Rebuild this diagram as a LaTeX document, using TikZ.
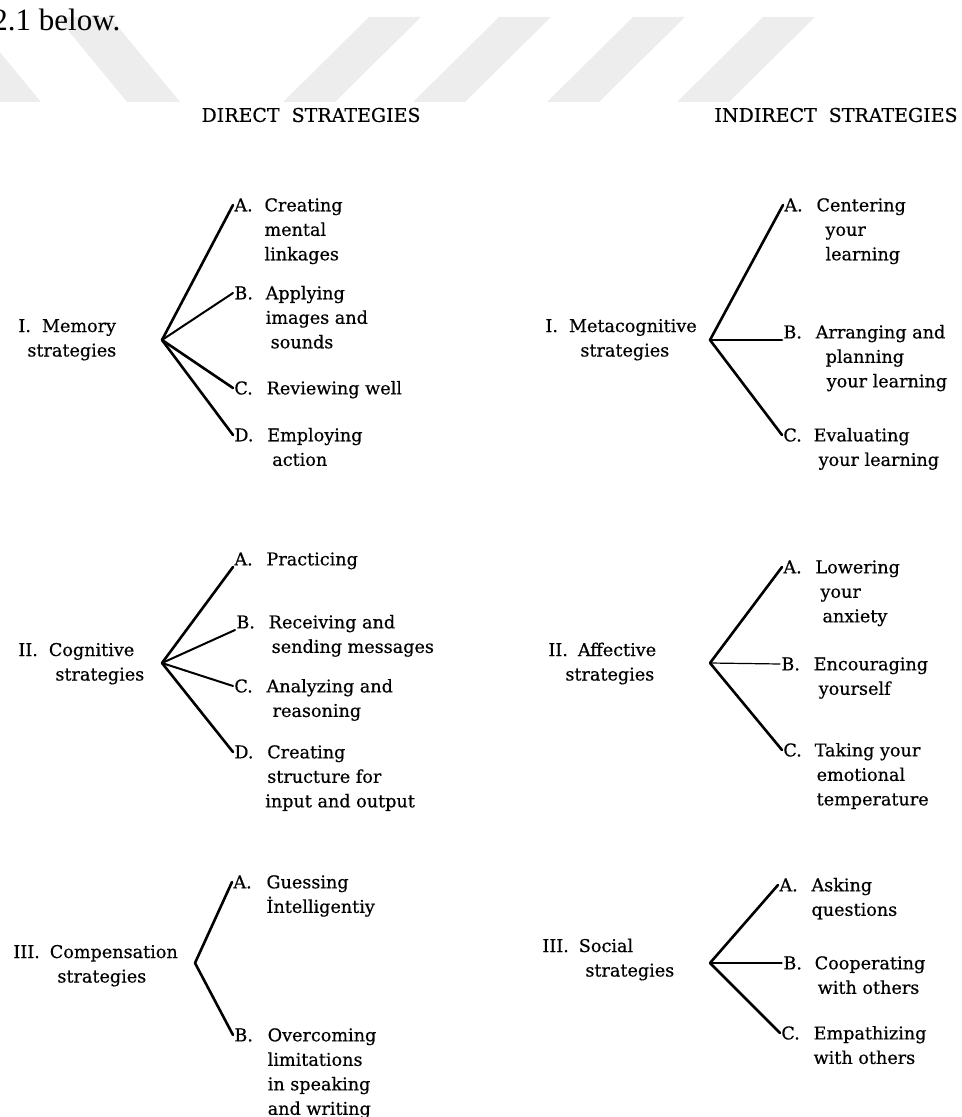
\documentclass[tikz,border=0pt]{standalone}
\usepackage{fontspec}
\setmainfont{DejaVu Serif}
\newfontface\figfont{DejaVu Serif}[FakeBold=0.5]
\newfontfamily\introfont{Liberation Serif}
\usetikzlibrary{positioning}
\tikzset{
  every picture/.style={line join=round, line cap=round},
  txt/.style={font=\figfont\fontsize{8.8pt}{12.25pt}\selectfont, inner sep=0pt},
  lbl/.style={txt, inner sep=0.5pt, anchor=west},
  head/.style={font=\figfont\fontsize{9.5pt}{12pt}\selectfont, inner sep=0pt},
  branch/.style={line width=1.3pt},
  mid/.style={line width=1pt},
  twig/.style={line width=0.6pt},
  wmark/.style={fill=black!7},
}
\newcommand{\leafbox}[1]{\begin{tabular}[t]{@{}l@{}}#1\end{tabular}}
\newcommand{\ind}[1]{\hspace*{#1pt}}

\begin{document}
\begin{tikzpicture}[x=0.5pt,y=-0.5pt]
\useasboundingbox (0,0) rectangle (962,1117);
\clip (0,0) rectangle (962,1117);
% watermark
\foreach \b in {283,413,547,677}{\fill[wmark] (\b,102) -- ++(52,0) -- ++(86,-85) -- ++(-52,0) -- cycle;}
\foreach \b in {-82,57}{\fill[wmark] (\b,17) -- ++(53,0) -- ++(70,85) -- ++(-53,0) -- cycle;}
\node[anchor=base west, inner sep=0pt, font=\introfont\fontsize{15.5pt}{18pt}\selectfont] (intro) at (-8,31) {2.1 below.};
\node[head] (direct) at (311,115) {DIRECT\ \ STRATEGIES};
\node[head] (indirect) at (836,115) {INDIRECT\ \ STRATEGIES};

% direct strategies
\node[txt, anchor=base west] (mem) at (18,332) {\leafbox{I.\hspace{5.5pt}Memory\\\ind{4.5}strategies}};
\node[txt, anchor=base west] (cog) at (18,656) {\leafbox{II.\hspace{5.5pt}Cognitive\\\ind{18.5}strategies}};
\node[txt, anchor=base west] (comp) at (13,958) {\leafbox{III.\hspace{5pt}Compensation\\\ind{22}strategies}};
\coordinate (memfork) at (162,340);
\coordinate (cogfork) at (162,663);
\coordinate (compfork) at (195,963);

\node[lbl] (memA) at (233,205) {A.};
\node[txt, base right=5pt of memA] (memAt) {\leafbox{Creating\\mental\\linkages}};
\node[lbl] (memB) at (233,293) {B.};
\node[txt, base right=5.5pt of memB] (memBt) {\leafbox{Applying\\images and\\\ind{2.5}sounds}};
\node[lbl] (memC) at (233,388) {C.};
\node[txt, base right=6pt of memC] (memCt) {Reviewing well};
\node[lbl] (memD) at (233,435) {D.};
\node[txt, base right=6pt of memD] (memDt) {\leafbox{Employing\\\ind{2.5}action}};

\node[lbl, anchor=south west] (cogA) at (233,567) {A.};
\node[txt, base right=6pt of cogA] (cogAt) {Practicing};
\node[lbl, anchor=south west] (cogB) at (235,630) {B.};
\node[txt, base right=6pt of cogB] (cogBt) {\leafbox{Receiving and\\\ind{1.5}sending messages}};
\node[lbl] (cogC) at (233,686) {C.};
\node[txt, base right=6pt of cogC] (cogCt) {\leafbox{Analyzing and\\\ind{3}reasoning}};
\node[lbl] (cogD) at (233,752) {D.};
\node[txt, base right=6pt of cogD] (cogDt) {\leafbox{Creating\\structure for\\\ind{-1}input and output}};

\node[lbl] (compA) at (232,882) {A.};
\node[txt, base right=6.5pt of compA] (compAt) {\leafbox{Guessing\\İntelligentiy}};
\node[lbl] (compB) at (233,1035) {B.};
\node[txt, base right=6.5pt of compB] (compBt) {\leafbox{Overcoming\\limitations\\in speaking\\and writing}};

% indirect strategies
\node[txt, anchor=base west] (meta) at (545,332) {\leafbox{I.\hspace{5.5pt}Metacognitive\\\ind{17.5}strategies}};
\node[txt, anchor=base west] (aff) at (548,656) {\leafbox{II.\hspace{5pt}Affective\\\ind{8.5}strategies}};
\node[txt, anchor=base west] (soc) at (542,952) {\leafbox{III.\hspace{5pt}Social\\\ind{21.5}strategies}};
\coordinate (metafork) at (710,340);
\coordinate (afffork) at (710,663);
\coordinate (socfork) at (710,963);

\node[lbl] (metaA) at (783,205) {A.};
\node[txt, base right=6pt of metaA] (metaAt) {\leafbox{Centering\\\ind{4.5}your\\\ind{4.5}learning}};
\node[lbl, anchor=south west] (metaB) at (782,340) {B.};
\node[txt, base right=6pt of metaB] (metaBt) {\leafbox{Arranging and\\\ind{5}planning\\\ind{5.5}your learning}};
\node[lbl] (metaC) at (782,435) {C.};
\node[txt, base right=5pt of metaC] (metaCt) {\leafbox{Evaluating\\\ind{2.5}your learning}};

\node[lbl] (affA) at (782,567) {A.};
\node[txt, base right=6pt of affA] (affAt) {\leafbox{Lowering\\\ind{2.5}your\\\ind{3.5}anxiety}};
\node[lbl] (affB) at (780,664) {B.};
\node[txt, base right=6pt of affB] (affBt) {\leafbox{Encouraging\\\ind{2.5}yourself}};
\node[lbl] (affC) at (782,750) {C.};
\node[txt, base right=5.5pt of affC] (affCt) {\leafbox{Taking your\\\ind{1}emotional\\\ind{1}temperature}};

\node[lbl] (socA) at (778,885) {A.};
\node[txt, base right=6pt of socA] (socAt) {\leafbox{Asking\\questions}};
\node[lbl] (socB) at (782,963) {B.};
\node[txt, base right=5.5pt of socB] (socBt) {\leafbox{Cooperating\\\ind{1.5}with others}};
\node[lbl] (socC) at (780,1033) {C.};
\node[txt, base right=6pt of socC] (socCt) {\leafbox{Empathizing\\with others}};

% branches
\foreach \t/\s in {memA.west/branch,memB.west/mid,memC.west/branch,memD.west/branch}{\draw[\s] (memfork) -- (\t);}
\foreach \t/\s in {cogA.south west/branch,cogB.south west/mid,cogC.west/mid,cogD.west/branch}{\draw[\s] (cogfork) -- (\t);}
\foreach \t in {compA.west,compB.west}{\draw[branch] (compfork) -- (\t);}
\foreach \t/\s in {metaA.west/branch,metaB.south west/branch,metaC.west/branch}{\draw[\s] (metafork) -- (\t);}
\foreach \t/\s in {affA.west/branch,affB.west/twig,affC.west/branch}{\draw[\s] (afffork) -- (\t);}
\foreach \t/\s in {socA.west/branch,socB.west/twig,socC.west/branch}{\draw[\s] (socfork) -- (\t);}
\end{tikzpicture}
\end{document}
